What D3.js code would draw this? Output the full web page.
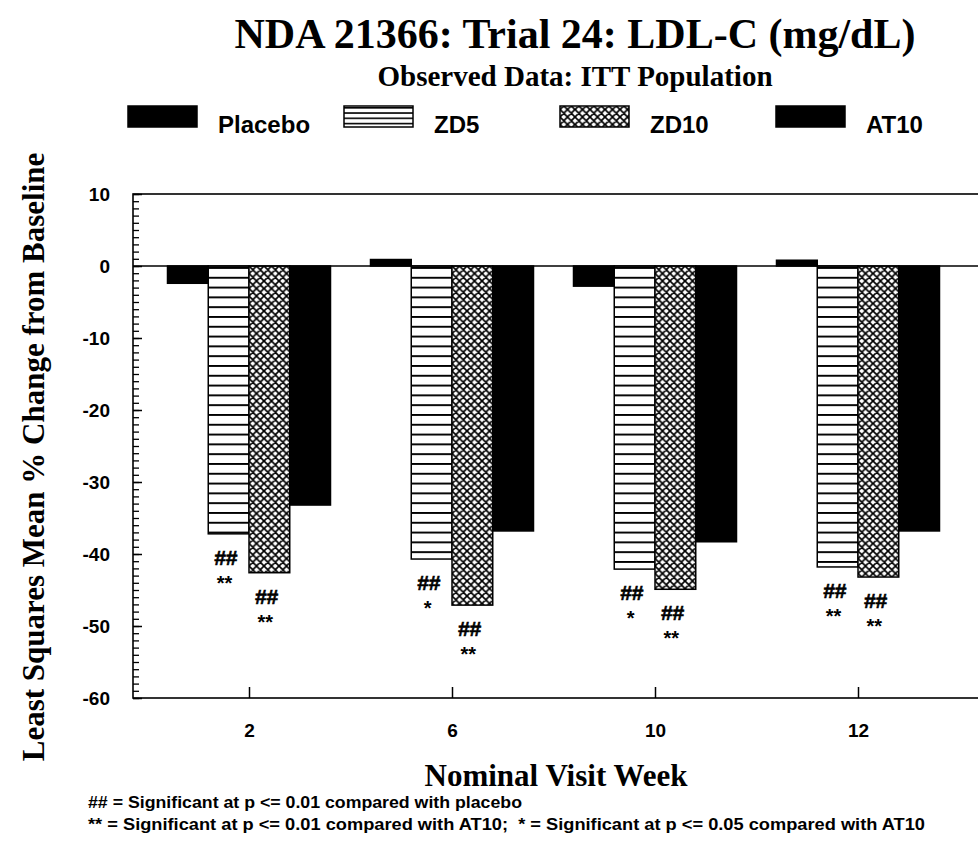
<!DOCTYPE html>
<html>
<head>
<meta charset="utf-8">
<script src="https://cdn.jsdelivr.net/npm/d3@7"></script>
<style>
  html, body { margin: 0; padding: 0; background: #fff; }
  svg { display: block; }
</style>
</head>
<body>
<svg id="chart" width="978" height="848"></svg>
<script>
// Visit weeks and least-squares mean % change in LDL-C per treatment arm
const weeks = ["2", "6", "10", "12"];
const seriesNames = ["Placebo", "ZD5", "ZD10", "AT10"];
const placebo = [-2.4, 0.9, -2.8, 0.8];
const zd5 = [-37.2, -40.7, -42.1, -41.8];
const zd10 = [-42.6, -47.1, -44.9, -43.2];
const at10 = [-33.2, -36.8, -38.3, -36.8];
// Significance flags shown beneath the ZD bars
const zd5VsPlacebo = ["##", "##", "##", "##"];
const zd5VsAT10 = ["**", "*", "*", "**"];
const zd10VsPlacebo = ["##", "##", "##", "##"];
const zd10VsAT10 = ["**", "**", "**", "**"];
const yTicks = [10, 0, -10, -20, -30, -40, -50, -60];

const values = { Placebo: placebo, ZD5: zd5, ZD10: zd10, AT10: at10 };
const fills = { Placebo: "#000", ZD5: "url(#hlines)", ZD10: "url(#xhatch)", AT10: "#000" };

const svg = d3.select("#chart");
const SERIF = "'Liberation Serif', 'Times New Roman', serif";
const SANS = "'Liberation Sans', Arial, sans-serif";

const plot = { left: 133, right: 984, top: 194, bottom: 698 };

const y = d3.scaleLinear().domain([-60, 10]).range([plot.bottom, plot.top]);
const x = d3.scalePoint().domain(weeks).range([249, 858]);
const xs = d3.scaleBand().domain(seriesNames).range([-81.5, 81.5]);

// Fill patterns
const defs = svg.append("defs");
const hp = defs.append("pattern").attr("id", "hlines")
  .attr("patternUnits", "userSpaceOnUse")
  .attr("x", 0).attr("y", y(0) + 1)
  .attr("width", 10).attr("height", 9.8);
hp.append("rect").attr("width", 10).attr("height", 9.8).attr("fill", "#fff");
hp.append("rect").attr("y", 0).attr("width", 10).attr("height", 1.9).attr("fill", "#000");

const xp = defs.append("pattern").attr("id", "xhatch")
  .attr("patternUnits", "userSpaceOnUse")
  .attr("x", 0).attr("y", y(0))
  .attr("width", 7.5).attr("height", 7.5);
xp.append("rect").attr("width", 7.5).attr("height", 7.5).attr("fill", "#fff");
xp.append("path")
  .attr("d", "M-1,-1 L8.5,8.5 M8.5,-1 L-1,8.5 M-1,6.5 L1,8.5 M6.5,-1 L8.5,1 M-1,1 L1,-1 M6.5,8.5 L8.5,6.5")
  .attr("stroke", "#000").attr("stroke-width", 1.7).attr("fill", "none");

const hl = defs.append("pattern").attr("id", "hlegend")
  .attr("patternUnits", "userSpaceOnUse")
  .attr("x", 0).attr("y", 106)
  .attr("width", 10).attr("height", 5.25);
hl.append("rect").attr("width", 10).attr("height", 5.25).attr("fill", "#fff");
hl.append("rect").attr("width", 10).attr("height", 1.6).attr("fill", "#000");

// Titles
svg.append("text").attr("x", 575).attr("y", 48).attr("text-anchor", "middle")
  .attr("font-family", SERIF).attr("font-weight", "bold").attr("font-size", 42)
  .text("NDA 21366: Trial 24: LDL-C (mg/dL)");
svg.append("text").attr("x", 575).attr("y", 86).attr("text-anchor", "middle")
  .attr("font-family", SERIF).attr("font-weight", "bold").attr("font-size", 29)
  .text("Observed Data: ITT Population");

// Legend
const legend = svg.append("g").attr("transform", "translate(128,106)");
seriesNames.forEach((name, i) => {
  const g = legend.append("g").attr("transform", `translate(${i * 216},0)`);
  g.append("rect").attr("width", 69).attr("height", 21)
    .attr("fill", name === "ZD5" ? "url(#hlegend)" : fills[name])
    .attr("stroke", "#000").attr("stroke-width", 1.5);
  g.append("text").attr("x", 90).attr("y", 27)
    .attr("font-family", SANS).attr("font-weight", "bold").attr("font-size", 24)
    .text(name);
});

// Bars
const groups = svg.append("g").selectAll("g")
  .data(weeks).join("g")
  .attr("transform", w => `translate(${x(w)},0)`);

groups.selectAll("rect")
  .data((w, i) => seriesNames.map(s => ({ s, v: values[s][i] })))
  .join("rect")
  .attr("x", d => xs(d.s))
  .attr("width", xs.bandwidth())
  .attr("y", d => y(Math.max(0, d.v)))
  .attr("height", d => Math.abs(y(d.v) - y(0)))
  .attr("fill", d => fills[d.s])
  .attr("stroke", "#000").attr("stroke-width", 1.5);

// Significance annotations
function annotate(series, top, bottom) {
  weeks.forEach((w, i) => {
    const cx = x(w) + xs(series) + xs.bandwidth() / 2 - 3;
    const yb = y(values[series][i]);
    svg.append("text").attr("x", cx).attr("y", yb + 31)
      .attr("text-anchor", "middle").attr("font-family", SANS)
      .attr("font-weight", "bold").attr("font-style", "italic").attr("font-size", 21)
      .attr("stroke", "#000").attr("stroke-width", 0.6)
      .text(top[i]);
    svg.append("text").attr("x", cx - 1).attr("y", yb + 56)
      .attr("text-anchor", "middle").attr("font-family", SANS)
      .attr("font-weight", "bold").attr("font-size", 20)
      .text(bottom[i]);
  });
}
annotate("ZD5", zd5VsPlacebo, zd5VsAT10);
annotate("ZD10", zd10VsPlacebo, zd10VsAT10);

// Zero reference line
svg.append("line").attr("x1", plot.left).attr("x2", plot.right)
  .attr("y1", y(0)).attr("y2", y(0))
  .attr("stroke", "#000").attr("stroke-width", 1.5);

// Frame
svg.append("rect").attr("x", plot.left).attr("y", plot.top)
  .attr("width", plot.right - plot.left).attr("height", plot.bottom - plot.top)
  .attr("fill", "none").attr("stroke", "#000").attr("stroke-width", 1.6);

// Y axis: minor ticks every unit, major ticks with labels
const yMinor = svg.append("g").attr("transform", `translate(${plot.left},0)`)
  .call(d3.axisLeft(y).ticks(70).tickSize(-6).tickFormat(""));
yMinor.select(".domain").remove();
yMinor.selectAll("line").attr("stroke-width", 1.3);

const yMajor = svg.append("g").attr("transform", `translate(${plot.left},0)`)
  .call(d3.axisLeft(y).tickValues(yTicks).tickSize(-9).tickPadding(23).tickFormat(d => String(d)));
yMajor.select(".domain").remove();
yMajor.selectAll("line").attr("stroke-width", 1.5);
yMajor.selectAll("text").attr("font-family", SANS).attr("font-weight", "bold")
  .attr("font-size", 19).attr("fill", "#000");

// X axis: short inward ticks at each visit
const xAxis = svg.append("g").attr("transform", `translate(0,${plot.bottom})`)
  .call(d3.axisBottom(x).tickSize(-11).tickPadding(26));
xAxis.select(".domain").remove();
xAxis.selectAll("line").attr("stroke-width", 1.5);
xAxis.selectAll("text").attr("font-family", SANS).attr("font-weight", "bold")
  .attr("font-size", 19).attr("fill", "#000");

// Axis titles
svg.append("text")
  .attr("transform", "translate(44,457) rotate(-90)")
  .attr("text-anchor", "middle")
  .attr("font-family", SERIF).attr("font-weight", "bold").attr("font-size", 31)
  .text("Least Squares Mean % Change from Baseline");
svg.append("text").attr("x", 556).attr("y", 786).attr("text-anchor", "middle")
  .attr("font-family", SERIF).attr("font-weight", "bold").attr("font-size", 31)
  .text("Nominal Visit Week");

// Footnotes
const notes = [
  "## = Significant at p <= 0.01 compared with placebo",
  "** = Significant at p <= 0.01 compared with AT10;  * = Significant at p <= 0.05 compared with AT10"
];
const noteWidths = [434, 837];
notes.forEach((t, i) => {
  svg.append("text").attr("x", 88).attr("y", 808 + i * 22)
    .attr("font-family", SANS).attr("font-weight", "bold").attr("font-size", 17)
    .attr("textLength", noteWidths[i]).attr("lengthAdjust", "spacingAndGlyphs")
    .style("white-space", "pre")
    .text(t);
});
</script>
</body>
</html>
